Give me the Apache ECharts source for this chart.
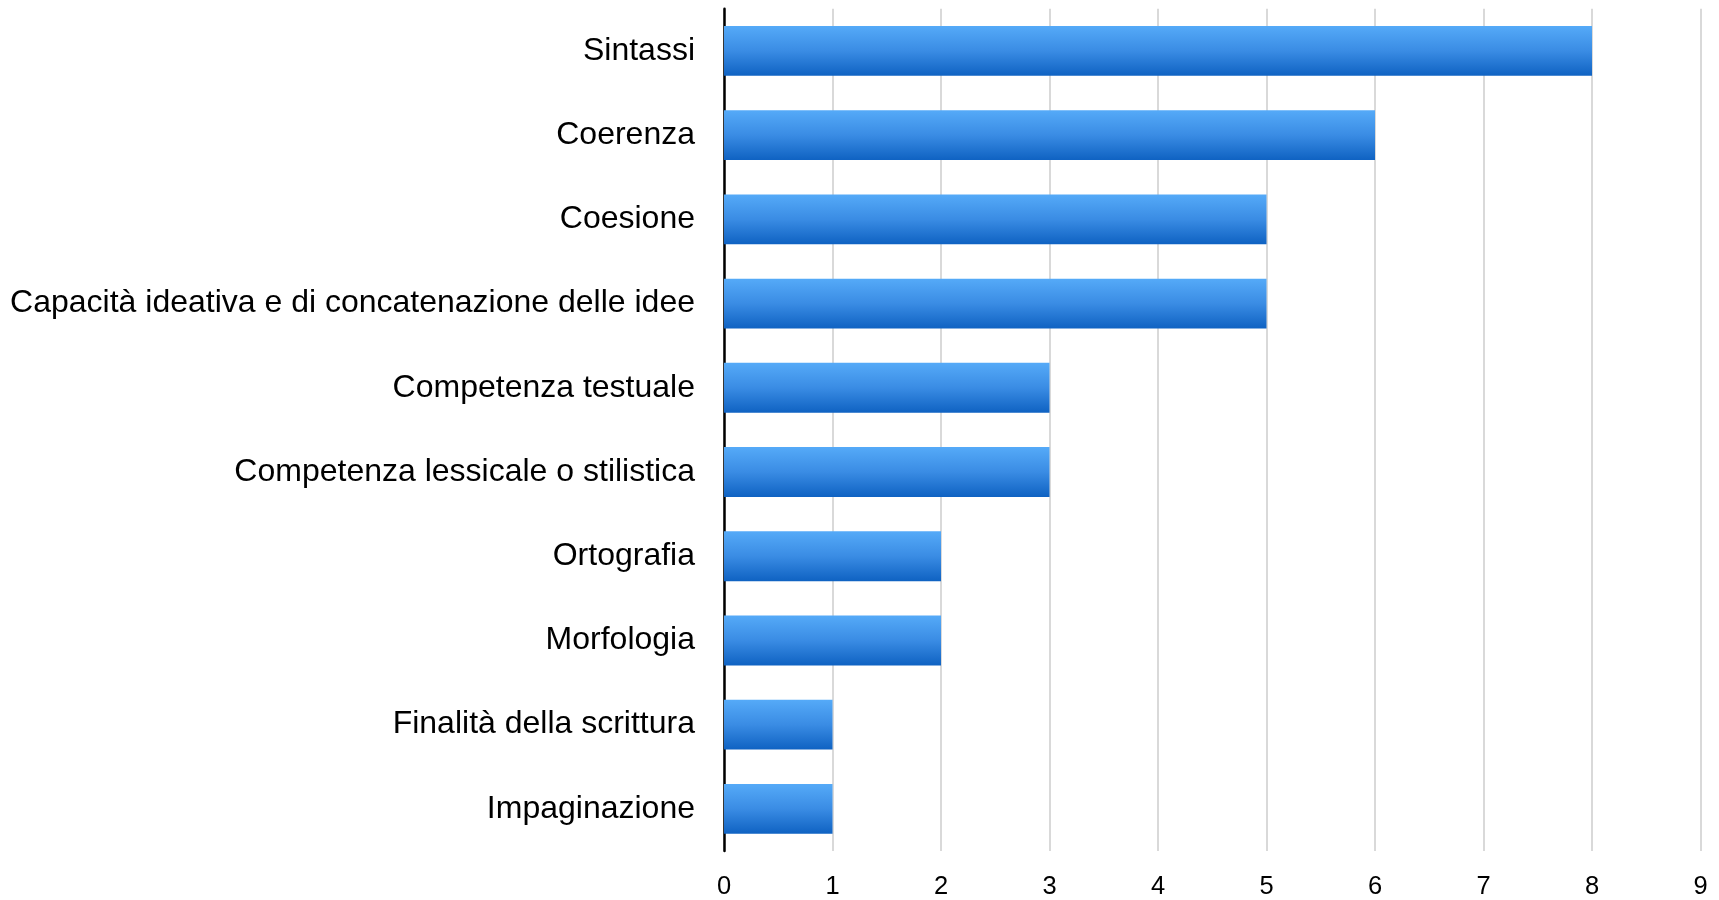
<!DOCTYPE html>
<html><head><meta charset="utf-8">
<script src="https://cdn.jsdelivr.net/npm/echarts@6/dist/echarts.min.js"></script>
<style>html,body{margin:0;padding:0;background:#fff}#c{width:1719px;height:900px}</style>
</head><body><div id="c"></div>
<script>
const categories = ["Sintassi","Coerenza","Coesione","Capacità ideativa e di concatenazione delle idee","Competenza testuale","Competenza lessicale o stilistica","Ortografia","Morfologia","Finalità della scrittura","Impaginazione"];
const values = [8,6,5,5,3,3,2,2,1,1];
const xTicks = [0,1,2,3,4,5,6,7,8,9];

const chart = echarts.init(document.getElementById('c'), null, {renderer:'canvas'});
chart.setOption({
  animation:false,
  grid:{left:724,right:18.5,top:8.8,bottom:46.8,containLabel:false},
  xAxis:{type:'value',min:xTicks[0],max:xTicks[xTicks.length-1],interval:1,
    axisLine:{show:false},axisTick:{show:false},
    axisLabel:{color:'#000',fontFamily:'Liberation Sans, Arial',fontSize:25.5,margin:23},
    splitLine:{show:true,lineStyle:{color:'#cccccc',width:1.5}}},
  yAxis:{type:'category',data:categories,inverse:true,
    axisLine:{show:true,lineStyle:{color:'#000',width:2.5}},axisTick:{show:false},
    axisLabel:{color:'#000',fontFamily:'Liberation Sans, Arial',fontSize:32,margin:29}},
  series:[{type:'bar',data:values,barWidth:'59.2%',
    itemStyle:{color:new echarts.graphic.LinearGradient(0,0,0,1,[{offset:0,color:'#55aaf8'},{offset:0.5,color:'#3a8ce4'},{offset:1,color:'#0f62c2'}])}}]
});
</script></body></html>
